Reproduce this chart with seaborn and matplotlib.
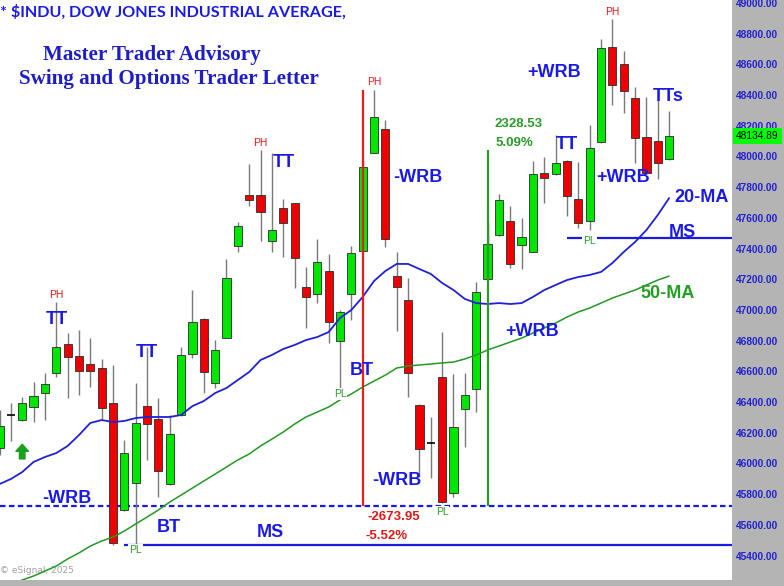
import numpy as np
import pandas as pd
import seaborn as sns
import matplotlib.pyplot as plt
from matplotlib.ticker import FuncFormatter

# ---- daily bars, $INDU ----
opens = [46100, 46315, 46283, 46368, 46459, 46589, 46778, 46700, 46648, 46622,
         46394, 45697, 45873, 46374, 46290, 45866, 46316, 46713, 46941, 46524,
         46817, 47417, 47749, 47749, 47449, 47664, 47697, 47150, 47104, 47254,
         46798, 47104, 47384, 48023, 48179, 47221, 47065, 46381, 46133, 46563,
         45808, 46355, 46485, 47202, 47488, 47580, 47423, 47378, 47892, 47886,
         47971, 47723, 47580, 48094, 48713, 48603, 48381, 48127, 48101, 47984]
highs = [46348, 46394, 46433, 46531, 46589, 47052, 46850, 46870, 46817, 46681,
         46641, 46153, 46524, 46759, 46426, 46316, 46759, 47130, 46945, 46804,
         47332, 47573, 47951, 48042, 48023, 47723, 47700, 47280, 47462, 47365,
         47000, 47417, 47977, 48433, 48238, 47378, 47208, 46385, 46303, 46857,
         46583, 46589, 47182, 47573, 47756, 47677, 47599, 47971, 47997, 48140,
         47975, 47964, 48205, 48765, 48896, 48687, 48453, 48388, 48368, 48296]
lows = [46055, 46146, 46275, 46270, 46283, 46563, 46426, 46446, 46498, 46283,
        45469, 45690, 45456, 46023, 45782, 45860, 46310, 46687, 46459, 46492,
        46815, 47378, 47677, 47449, 47378, 47345, 47143, 46883, 47045, 46785,
        46459, 46935, 47380, 48020, 47410, 46863, 46433, 45912, 45905, 45745,
        45782, 46107, 46335, 47198, 47485, 47273, 47267, 47375, 47697, 47880,
        47612, 47534, 47521, 48090, 48335, 48283, 47958, 47890, 47853, 47980]
closes = [46245, 46315, 46394, 46440, 46518, 46759, 46694, 46602, 46602, 46361,
          45482, 46068, 46264, 46257, 45951, 46192, 46707, 46922, 46596, 46739,
          47208, 47547, 47716, 47638, 47521, 47567, 47339, 47085, 47313, 46922,
          46987, 47371, 47931, 48257, 47462, 47150, 46589, 46094, 46133, 45749,
          46238, 46446, 47117, 47430, 47716, 47300, 47475, 47886, 47860, 47958,
          47743, 47567, 48055, 48707, 48466, 48427, 48120, 47892, 47958, 48134.89]

ma20 = [45866, 45899, 45944, 46010, 46042, 46068, 46114, 46185, 46264, 46283,
        46270, 46277, 46296, 46303, 46303, 46303, 46316, 46374, 46407, 46459,
        46492, 46544, 46596, 46674, 46707, 46746, 46772, 46804, 46824, 46856,
        46948, 47000, 47085, 47189, 47254, 47300, 47300, 47267, 47235, 47176,
        47130, 47072, 47045, 47039, 47045, 47039, 47045, 47085, 47130, 47163,
        47195, 47215, 47228, 47248, 47306, 47378, 47443, 47521, 47619, 47729]
ma50 = [45182, 45208, 45241, 45267, 45299, 45332, 45378, 45417, 45462, 45495,
        45521, 45560, 45606, 45651, 45697, 45749, 45794, 45840, 45886, 45931,
        45977, 46023, 46062, 46114, 46159, 46205, 46257, 46303, 46335, 46368,
        46414, 46453, 46498, 46537, 46576, 46622, 46635, 46642, 46648, 46655,
        46661, 46681, 46707, 46739, 46765, 46791, 46817, 46850, 46883, 46915,
        46954, 46987, 47013, 47045, 47078, 47104, 47130, 47163, 47195, 47221]

last_price = 48134.89
wrb_low = 45720       # dashed line
ms_low = 45469        # lower MS line
ms_high = 47469       # upper MS line
drop_from = 48430     # red measure line top
rally_to = 48042      # green measure line top

df = pd.DataFrame({"bar": np.arange(len(opens)), "open": opens, "high": highs,
                   "low": lows, "close": closes, "ma20": ma20, "ma50": ma50})

sns.set_style("white")
BLUE = "#1a1ae6"
GREEN_TXT = "#2a9a2a"
RED_TXT = "#e01818"

fig = plt.figure(figsize=(7.84, 5.86), dpi=100, facecolor="#b4b4b4")
ax = fig.add_axes([0, 6 / 586, 732 / 784, 580 / 586])
ax.set_facecolor("white")

# candles
up = df[df.close > df.open]
dn = df[df.close < df.open]
dj = df[df.close == df.open]
ax.vlines(df.bar, df.low, df.high, color="#7a7a7a", lw=1, zorder=2)
ax.bar(up.bar, up.close - up.open, bottom=up.open, width=0.72,
       color="#00e600", edgecolor="#2b2b2b", lw=0.6, zorder=3)
ax.bar(dn.bar, dn.open - dn.close, bottom=dn.close, width=0.72,
       color="#ee0000", edgecolor="#2b2b2b", lw=0.6, zorder=3)
ax.hlines(dj.close, dj.bar - 0.36, dj.bar + 0.36, color="black", lw=1.2, zorder=3)

# moving averages
sns.lineplot(data=df, x="bar", y="ma20", color="#2020d8", lw=1.3, ax=ax, zorder=4)
sns.lineplot(data=df, x="bar", y="ma50", color="#229922", lw=1.1, ax=ax, zorder=4)

# levels
ax.axhline(wrb_low, color=BLUE, lw=1.6, ls=(0, (2.5, 1.5)), zorder=1)
ax.hlines(ms_low, 11, 65, color=BLUE, lw=1.6, zorder=1)
ax.hlines(ms_high, 50, 65, color=BLUE, lw=1.6, zorder=1)
ax.vlines(32, wrb_low, drop_from, color="#ee1c1c", lw=1.6, zorder=5)
ax.vlines(43, wrb_low, rally_to, color="#2a9a2a", lw=1.6, zorder=5)

ax.annotate("", xy=(2, 46125), xytext=(2, 46030),
            arrowprops=dict(facecolor="#1aa01a", edgecolor="#1aa01a",
                            width=4, headwidth=9, headlength=5))

ax.set_xlim(0.044, 64.54)
ax.set_ylim(45241, 49019.5)
ax.set_xlabel("")
ax.set_ylabel("")
ax.set_xticks([])
for s in ax.spines.values():
    s.set_visible(False)
ax.yaxis.tick_right()
ax.set_yticks(np.arange(45400, 49001, 200))
ax.yaxis.set_major_formatter(FuncFormatter(lambda v, p: "%.2f" % v))
ax.tick_params(axis="y", length=0, pad=3, labelsize=7.3, labelcolor="#2222cc")
for t in ax.get_yticklabels():
    t.set_fontweight("bold")
    t.set_family("Liberation Sans")

ax.annotate("%.2f" % last_price, xy=(1.0, last_price),
            xycoords=("axes fraction", "data"), xytext=(3, 0),
            textcoords="offset points", ha="left", va="center", fontsize=7.3,
            color="black", family="Liberation Sans",
            bbox=dict(boxstyle="square,pad=0.3", fc="#00ff00", ec="none"),
            annotation_clip=False)


def label(x, y, s, color=BLUE, size=13, bold=True, box=False):
    kw = dict(ha="center", va="center", color=color, fontsize=size,
              fontweight="bold" if bold else "normal",
              family="Liberation Sans", zorder=6)
    if box:
        kw["bbox"] = dict(boxstyle="square,pad=0.1", fc="white", ec="none")
    ax.text(x, y, s, **kw)


for x, y in [(5, 47097), (23, 48088), (33, 48485), (54, 48941)]:
    label(x, y, "PH", RED_TXT, 7.5, bold=False)
for x, y in [(12, 45436), (30, 46452), (39, 45684), (52, 47449)]:
    label(x, y, "PL", GREEN_TXT, 7.5, bold=False, box=True)
for x, y in [(5.07, 46935), (13, 46720), (25.07, 47958), (50, 48081)]:
    label(x, y, "TT")
label(58.9, 48394, "TTs")
label(5.95, 45775, "-WRB")
label(36.9, 47866, "-WRB")
label(35.0, 45892, "-WRB")
label(48.9, 48550, "+WRB")
label(54.9, 47860, "+WRB")
label(46.9, 46863, "+WRB")
label(14.9, 45580, "BT")
label(31.9, 46609, "BT")
label(23.9, 45553, "MS")
label(60.2, 47508, "MS")
label(61.9, 47736, "20-MA")
label(58.9, 47110, "50-MA", "#22a022")
label(45.7, 48212, "2328.53", GREEN_TXT, 9.5)
label(45.4, 48088, "5.09%", GREEN_TXT, 9.5)
label(34.7, 45651, "-2673.95", RED_TXT, 9.5)
label(34.1, 45527, "-5.52%", RED_TXT, 9.5)

ax.text(0.0, 0.979, "* \\$INDU, DOW JONES INDUSTRIAL AVERAGE,", transform=ax.transAxes,
        ha="left", va="center", color=BLUE, fontsize=11.6, fontweight="bold",
        family="Lato")
ax.text(0.208, 0.905, "Master Trader Advisory", transform=ax.transAxes,
        ha="center", va="center", color="#1e1ec8", fontsize=15.2,
        fontweight="bold", family="Liberation Serif")
ax.text(0.231, 0.864, "Swing and Options Trader Letter", transform=ax.transAxes,
        ha="center", va="center", color="#1e1ec8", fontsize=15.2,
        fontweight="bold", family="Liberation Serif")
ax.text(0.0, 0.016, "\u00a9 eSignal, 2025", transform=ax.transAxes,
        ha="left", va="center", color="#a0a0a0", fontsize=6.5)

fig.savefig("out.png", dpi=100, facecolor=fig.get_facecolor())
